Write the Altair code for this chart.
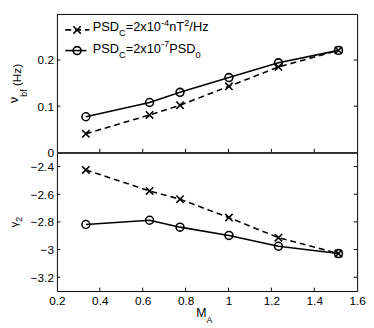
import altair as alt
import pandas as pd

# ---------------- data ----------------
M_A = [0.335, 0.632, 0.774, 1.002, 1.233, 1.513]
NU_ABS = [0.040, 0.081, 0.102, 0.143, 0.185, 0.221]      # PSD_C = 2x10^-4 nT^2/Hz  (dashed, x)
NU_REL = [0.077, 0.108, 0.130, 0.162, 0.194, 0.221]      # PSD_C = 2x10^-7 PSD_0    (solid, o)
G_ABS = [-2.424, -2.576, -2.636, -2.769, -2.914, -3.029]
G_REL = [-2.819, -2.788, -2.838, -2.898, -2.976, -3.029]

X_DOMAIN = [0.2, 1.6]
NU_DOMAIN = [0.0, 0.3]
G_DOMAIN = [-3.3, -2.3]
X_TICKS = [0.2, 0.4, 0.6, 0.8, 1.0, 1.2, 1.4, 1.6]
NU_TICKS = [0.0, 0.1, 0.2]
G_TICKS = [-2.4, -2.6, -2.8, -3.0, -3.2]

# ---------------- style ----------------
FONT = "Liberation Sans"
W = 305
H = 140.5
TL = 3.5          # inner tick length
LW = 1.6
CROSS = "M-1,-1L1,1M1,-1L-1,1"
DUMMY = pd.DataFrame({"a": [0]})
FRAME_L = 60      # invisible frame that fixes the chart's bounds
PAD_L = 48.7 - FRAME_L
FRAME_T = 6
PAD_T = 2.5 - FRAME_T

ADV = {  # Arial / Liberation Sans advance widths (1/1000 em)
    "P": 667, "S": 667, "D": 722, "C": 722, "=": 584, "x": 500, "n": 556, "T": 611,
    "/": 278, "H": 722, "z": 500, "-": 333, "−": 584, " ": 278, "(": 333, ")": 333,
    "M": 833, "A": 667, "b": 556, "f": 278, "ν": 500, "γ": 500,
}


def tw(s, size):
    return sum(ADV.get(c, 556) for c in s) * size / 1000.0


def rich(segs, x, y, angle=0, center=False):
    total = sum(tw(t, s) for t, s, _ in segs)
    off = -total / 2 if center else 0.0
    out = []
    for t, s, sh in segs:
        lead = len(t) - len(t.lstrip(" "))
        off += tw(" " * lead, s)
        t = t.lstrip(" ")
        out.append(
            alt.Chart(DUMMY).mark_text(
                text=t, font=FONT, fontSize=s, color="black", align="left",
                baseline="alphabetic", angle=angle, dx=off, dy=sh,
            ).encode(x=alt.value(x), y=alt.value(y))
        )
        off += tw(t, s)
    return out


def panel(y_abs, y_rel, ydomain, yticks, show_x, extra):
    df_abs = pd.DataFrame({"x": M_A, "y": y_abs})
    df_rel = pd.DataFrame({"x": M_A, "y": y_rel})
    if show_x:
        xaxis = alt.Axis(values=X_TICKS, format="~g", ticks=False, domain=False, grid=False,
                         title=None, labelFont=FONT, labelFontSize=12, labelColor="black",
                         labelPadding=5, labelFlush=False)
    else:
        xaxis = None
    xs = alt.X("x:Q", scale=alt.Scale(domain=X_DOMAIN, nice=False, zero=False), axis=xaxis)
    ys = alt.Y("y:Q", scale=alt.Scale(domain=ydomain, nice=False, zero=False),
               axis=alt.Axis(values=yticks, format="~g", ticks=False, domain=False, grid=False,
                             title=None, labelFont=FONT, labelFontSize=12, labelColor="black",
                             labelPadding=3.5, labelFlush=False))

    line_abs = alt.Chart(df_abs).mark_line(color="black", strokeWidth=LW, strokeDash=[6, 4]).encode(x=xs, y=ys)
    pts_abs = alt.Chart(df_abs).mark_point(shape=CROSS, size=56, color="black", strokeWidth=LW,
                                           filled=False, opacity=1).encode(x=xs, y=ys)
    line_rel = alt.Chart(df_rel).mark_line(color="black", strokeWidth=LW).encode(x=xs, y=ys)
    pts_rel = alt.Chart(df_rel).mark_point(shape="circle", size=64, color="black", strokeWidth=LW,
                                           filled=False, opacity=1).encode(x=xs, y=ys)

    xt = pd.DataFrame({"x": X_TICKS[1:-1]})
    yin = [t for t in yticks if ydomain[0] < t < ydomain[1]]
    yt = pd.DataFrame({"y": yin})
    tick_b = alt.Chart(xt).mark_rule(color="black", strokeWidth=1).encode(
        x=xs, y=alt.value(H - TL), y2=alt.value(H))
    tick_l = alt.Chart(yt).mark_rule(color="black", strokeWidth=1).encode(
        y=ys, x=alt.value(0), x2=alt.value(TL))
    tick_r = alt.Chart(yt).mark_rule(color="black", strokeWidth=1).encode(
        y=ys, x=alt.value(W - TL), x2=alt.value(W))

    layers = [tick_b, tick_l, tick_r, line_abs, line_rel, pts_abs, pts_rel] + extra
    return alt.layer(*layers).properties(width=W, height=H)


# ---------------- legend & titles ----------------
BIG, SMALL = 13, 9.5
legend = [
    alt.Chart(DUMMY).mark_rect(opacity=0).encode(
        x=alt.value(-FRAME_L), x2=alt.value(W + 4), y=alt.value(-FRAME_T), y2=alt.value(H)),
    alt.Chart(DUMMY).mark_rule(color="black", strokeWidth=LW, strokeDash=[6, 4]).encode(
        x=alt.value(8.5), x2=alt.value(33), y=alt.value(16.2)),
    alt.Chart(DUMMY).mark_point(shape=CROSS, size=56, color="black", strokeWidth=LW, filled=False,
                                opacity=1).encode(x=alt.value(20.5), y=alt.value(16.2)),
    alt.Chart(DUMMY).mark_rule(color="black", strokeWidth=LW).encode(
        x=alt.value(8.5), x2=alt.value(30), y=alt.value(37.2)),
    alt.Chart(DUMMY).mark_point(shape="circle", size=64, color="black", strokeWidth=LW, filled=False,
                                opacity=1).encode(x=alt.value(20.5), y=alt.value(37.2)),
]
legend += rich([("PSD", BIG, 0), ("C", SMALL, 5), ("=2x10", BIG, 0), ("-4", SMALL, -6),
                ("nT", BIG, 0), ("2", SMALL, -6), ("/Hz", BIG, 0)], 36.3, 17.8)
legend += rich([("PSD", BIG, 0), ("C", SMALL, 5), ("=2x10", BIG, 0), ("-7", SMALL, -6),
                ("PSD", BIG, 0), ("0", SMALL, 5)], 36.3, 39.5)

nu_title = rich([("ν", 12.5, -3), ("bf", 9, 6), (" (Hz)", 12, 0)], -36.7, 70.5, angle=270, center=True)
g_title = rich([("γ", 12, 0), ("2", 9, 4)], -39.7, 70.5, angle=270, center=True)
m_title = rich([("M", 12.5, 0), ("A", 9, 6)], 149.8, 167.3, center=True)
bottom_frame = [alt.Chart(DUMMY).mark_rect(opacity=0).encode(
    x=alt.value(-FRAME_L), x2=alt.value(W + 4), y=alt.value(0), y2=alt.value(H + 28))]

top = panel(NU_ABS, NU_REL, NU_DOMAIN, NU_TICKS, False, legend + nu_title)
bottom = panel(G_ABS, G_REL, G_DOMAIN, G_TICKS, True, bottom_frame + g_title + m_title)

chart = alt.vconcat(top, bottom, spacing=0, bounds="flush").resolve_scale(
    x="independent", y="independent"
).properties(
    padding={"left": PAD_L, "top": PAD_T, "right": 0, "bottom": 0},
    background="white",
).configure_view(stroke="black", strokeWidth=1)

chart.save("out.html", embed_options={"renderer": "svg", "actions": False})
